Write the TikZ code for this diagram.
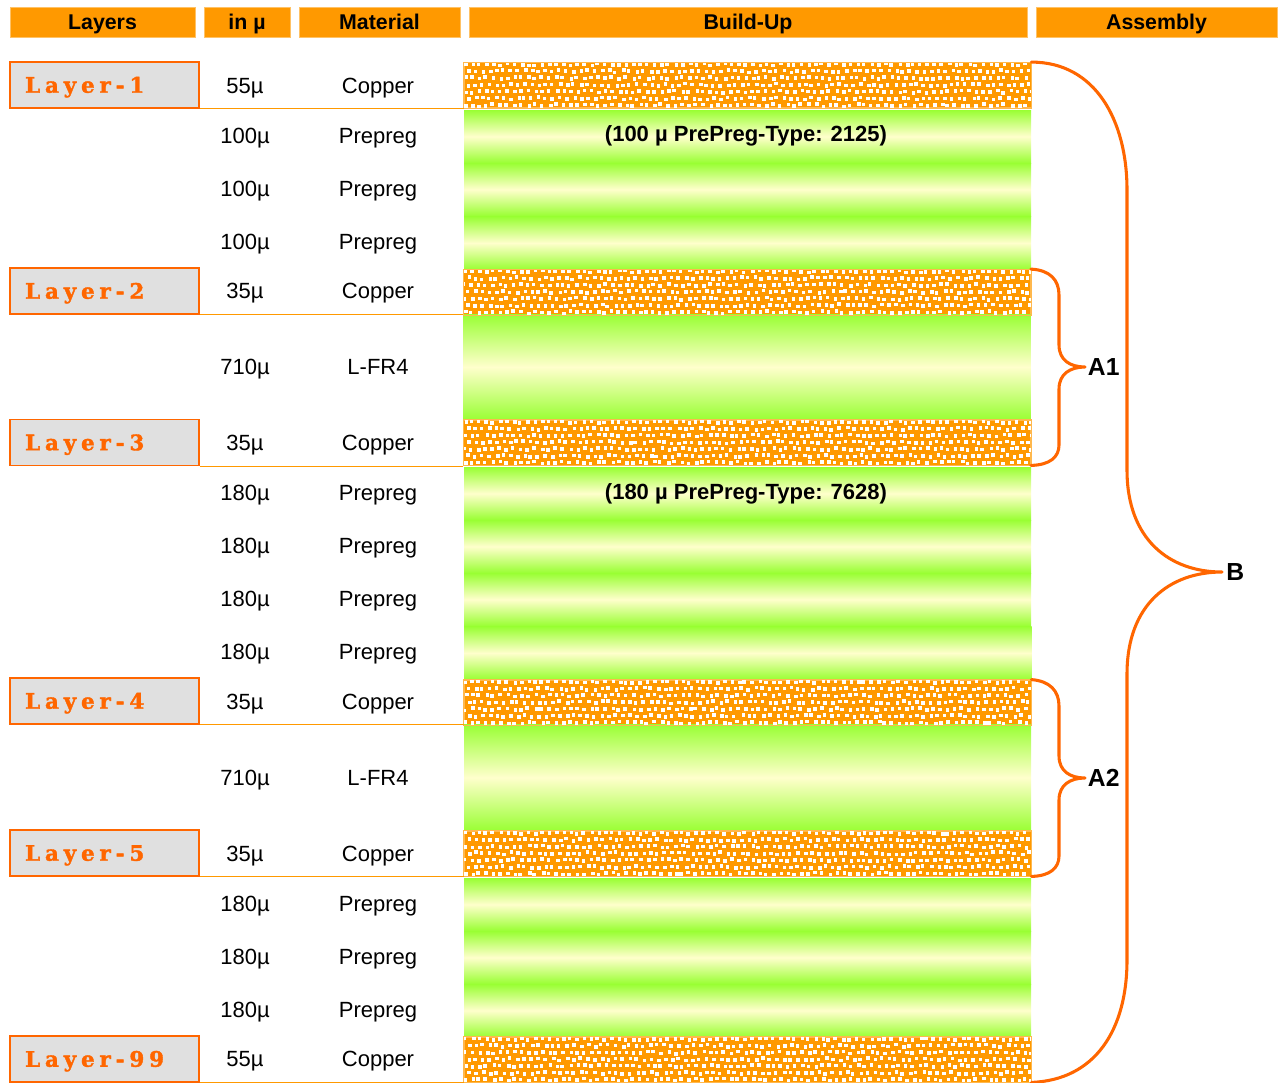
\documentclass[tikz,border=0pt]{standalone}
\usepackage{fontspec}
\setmainfont{Liberation Sans}
\newfontfamily\layerfont[LetterSpace=23,FakeBold=1.8]{DejaVu Serif Bold}
\usetikzlibrary{calc}
\definecolor{hdrorange}{HTML}{FF9900}
\definecolor{edgeorange}{HTML}{FF6600}
\definecolor{boxgray}{HTML}{E0E0E0}
\definecolor{ppgreen}{HTML}{99FF33}
\definecolor{ppyellow}{HTML}{FFFFCC}
\definecolor{cuedge}{HTML}{FFB84D}
\tikzset{
  hdrbox/.style={
    fill=hdrorange, draw=hdrorange!60, line width=0.6pt,
    minimum width=#1*0.75pt, minimum height=22.5pt, inner sep=0pt,
    text height=10.8pt, text depth=0pt, font=\bfseries\fontsize{16}{18}\selectfont
  },
  layerbox/.style={
    fill=boxgray, draw=edgeorange, line width=0.8pt,
    minimum width=141.75pt, minimum height=34.5pt, text width=119pt,
    align=left, inner xsep=11pt, inner ysep=0pt, text=edgeorange,
    text height=11.6pt, text depth=0pt, font=\layerfont\fontsize{16}{18}\selectfont
  },
  copper/.style={
    fill=hdrorange, draw=cuedge, line width=0.6pt,
    minimum width=425.25pt, minimum height=33.75pt, inner sep=0pt
  },
  prepreg/.style={
    top color=ppgreen, bottom color=ppgreen, middle color=ppyellow,
    minimum width=425.25pt, minimum height=39.75pt, inner sep=0pt
  },
  cell/.style={font=\fontsize{16.5}{18}\selectfont,inner sep=0pt,text height=11.8pt,text depth=0pt},
  bnote/.style={font=\bfseries\fontsize{16.5}{18}\selectfont,inner sep=0pt,text height=11.8pt,text depth=0pt},
  bigtag/.style={font=\bfseries\fontsize{18.5}{20}\selectfont,inner sep=0pt,text height=13.2pt,text depth=0pt},
  sepline/.style={draw=hdrorange,line width=0.8pt},
  brace/.style={draw=edgeorange,line width=2.3pt,line cap=round,line join=round}
}
\begin{document}
\begin{tikzpicture}[x=0.75pt,y=-0.75pt]
\useasboundingbox (0,0) rectangle (1281,1082);
% header row
\node[hdrbox=185] (hlay) at (102.5,22) {Layers};
\node[hdrbox=86] (hthk) at (247,22) {in µ};
\node[hdrbox=161] (hmat) at (379.5,22) {Material};
\node[hdrbox=558] (hbld) at (748,22) {Build-Up};
\node[hdrbox=241] (hasm) at (1156.5,22) {Assembly};

% build-up stack
\node[copper] (cu1) at (747.5,85) {};
\node[prepreg] (pp1) at (747.5,136.5) {};
\node[prepreg] (pp2) at (747.5,189.5) {};
\node[prepreg] (pp3) at (747.5,243) {};
\node[copper] (cu2) at (747,292) {};
\node[prepreg,minimum height=79.5pt] (fr1) at (747,367) {};
\node[copper] (cu3) at (747,442.5) {};
\node[prepreg] (pp4) at (747.5,493.5) {};
\node[prepreg] (pp5) at (747.5,546.5) {};
\node[prepreg] (pp6) at (747.5,599.5) {};
\node[prepreg] (pp7) at (748,653) {};
\node[copper] (cu4) at (747.5,702.5) {};
\node[prepreg,minimum height=80.25pt] (fr2) at (747.5,777.5) {};
\node[copper] (cu5) at (747.5,853.5) {};
\node[prepreg] (pp8) at (747.5,904.5) {};
\node[prepreg] (pp9) at (747.5,957.5) {};
\node[prepreg] (pp10) at (747.5,1010.5) {};
\node[copper] (cu99) at (747.5,1059.5) {};
% copper grain
\pgfmathsetseed{42}
\foreach \c in {cu1,cu2,cu3,cu4,cu5,cu99}{
  \begin{scope}
    \clip (\c.south west) rectangle (\c.north east);
    \begin{scope}[shift={(\c.north west)}]
      \foreach \i in {0,...,81}{\foreach \j in {0,...,6}{%
        \pgfmathsetmacro\dx{\i*7+mod(\j,2)*3.5+1.5*rand}
        \pgfmathsetmacro\dy{\j*6.8+1.2*rand+0.5}
        \fill[white] (\dx,\dy) rectangle ++(3.6,3.6);}}
    \end{scope}
  \end{scope}
  \draw[cuedge,line width=0.6pt] (\c.south west) rectangle (\c.north east);
}
\node[bnote] (n1) at (746,134) {(100 µ PrePreg-Type: 2125)};
\node[bnote] (n2) at (746,492) {(180 µ PrePreg-Type: 7628)};

% layer names
\node[layerbox] (lay1) at (104.5,85) {Layer-1};
\node[layerbox] (lay2) at (104.5,291) {Layer-2};
\node[layerbox] (lay3) at (104.5,442.5) {Layer-3};
\node[layerbox] (lay4) at (104.5,701) {Layer-4};
\node[layerbox] (lay5) at (104.5,853) {Layer-5};
\node[layerbox] (lay99) at (104.5,1059) {Layer-99};
\foreach \l/\c in {lay1/cu1,lay2/cu2,lay3/cu3,lay4/cu4,lay5/cu5,lay99/cu99}
  \draw[sepline] (\l.south east) -- (\l.south east -| \c.west);

% thickness and material
\foreach \y/\t/\m [count=\k] in {86/55µ/Copper,136/100µ/Prepreg,189/100µ/Prepreg,242/100µ/Prepreg,
  291/35µ/Copper,367/710µ/L-FR4,443/35µ/Copper,493/180µ/Prepreg,546/180µ/Prepreg,599/180µ/Prepreg,
  652/180µ/Prepreg,702/35µ/Copper,778/710µ/L-FR4,854/35µ/Copper,904/180µ/Prepreg,957/180µ/Prepreg,
  1010/180µ/Prepreg,1059/55µ/Copper}{
  \node[cell] (t\k) at (245,\y) {\t};
  \node[cell] (m\k) at (378,\y) {\m};
}

% assembly braces
\coordinate (a1tip) at (1085,367);
\coordinate (a2tip) at (1085,778);
\coordinate (btip) at (1222,572);
\draw[brace] (cu2.north east) .. controls (1050,270) and (1059,280) .. (1059,295) -- (1059,345)
  .. controls (1059,360) and (1070,367) .. (a1tip) .. controls (1070,367) and (1059,374) .. (1059,389)
  -- (1059,445) .. controls (1059,457) and (1050,465) .. (cu3.south east);
\draw[brace] (cu4.north east) .. controls (1050,681) and (1059,691) .. (1059,706) -- (1059,756)
  .. controls (1059,771) and (1070,778) .. (a2tip) .. controls (1070,778) and (1059,785) .. (1059,800)
  -- (1059,856) .. controls (1059,868) and (1050,876) .. (cu5.south east);
\draw[brace] (cu1.north east) .. controls (1095,62) and (1127,120) .. (1127,190) -- (1127,470)
  .. controls (1127,540) and (1170,572) .. (btip) .. controls (1170,572) and (1127,604) .. (1127,674)
  -- (1127,960) .. controls (1127,1030) and (1095,1080) .. (cu99.south east);
\node[bigtag,anchor=west,xshift=2pt] (a1) at (a1tip) {A1};
\node[bigtag,anchor=west,xshift=2pt] (a2) at (a2tip) {A2};
\node[bigtag,anchor=west,xshift=3pt] (b) at (btip) {B};
\end{tikzpicture}
\end{document}
